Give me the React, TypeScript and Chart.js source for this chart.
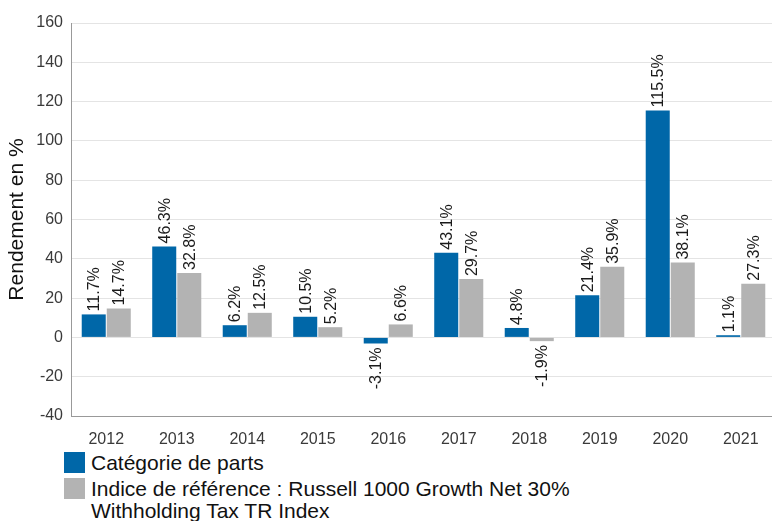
import React, { useEffect, useRef } from "react";
import { Chart, registerables } from "chart.js";

Chart.register(...registerables);

const years = ["2012", "2013", "2014", "2015", "2016", "2017", "2018", "2019", "2020", "2021"];
const fundValues = [11.7, 46.3, 6.2, 10.5, -3.1, 43.1, 4.8, 21.4, 115.5, 1.1];
const indexValues = [14.7, 32.8, 12.5, 5.2, 6.6, 29.7, -1.9, 35.9, 38.1, 27.3];
const seriesNames = [
  "Catégorie de parts",
  "Indice de référence : Russell 1000 Growth Net 30% Withholding Tax TR Index",
];
const seriesColors = ["#0067a8", "#b3b3b3"];
const yTitle = "Rendement en %";
const FONT = "'Liberation Sans', Arial, sans-serif";

const labelPlugin = {
  id: "barValueLabels",
  afterDatasetsDraw(chart: any) {
    const ctx = chart.ctx;
    ctx.save();
    ctx.font = `16px ${FONT}`;
    ctx.fillStyle = "#1a1a1a";
    ctx.textBaseline = "middle";
    chart.data.datasets.forEach((ds: any, di: number) => {
      const meta = chart.getDatasetMeta(di);
      meta.data.forEach((bar: any, i: number) => {
        const v = ds.data[i];
        const text = v.toFixed(1) + "%";
        ctx.save();
        if (v >= 0) {
          ctx.translate(bar.x, bar.y - 3);
          ctx.rotate(-Math.PI / 2);
          ctx.textAlign = "left";
        } else {
          ctx.translate(bar.x, bar.y + 4);
          ctx.rotate(-Math.PI / 2);
          ctx.textAlign = "right";
        }
        ctx.fillText(text, 0, 1);
        ctx.restore();
      });
    });
    ctx.restore();
  },
};

export default function App() {
  const ref = useRef<HTMLCanvasElement>(null);
  useEffect(() => {
    if (!ref.current) return;
    const chart = new Chart(ref.current, {
      type: "bar",
      data: {
        labels: years,
        datasets: [
          { label: seriesNames[0], data: fundValues, backgroundColor: seriesColors[0], barPercentage: 0.96, categoryPercentage: 0.71 },
          { label: seriesNames[1], data: indexValues, backgroundColor: seriesColors[1], barPercentage: 0.96, categoryPercentage: 0.71 },
        ],
      },
      options: {
        animation: false,
        responsive: false,
        devicePixelRatio: 1,
        layout: { padding: { top: 23, right: 4, left: 0, bottom: 0 } },
        plugins: { legend: { display: false }, tooltip: { enabled: false } },
        scales: {
          x: {
            grid: { display: false },
            border: { display: true, color: "#999999", width: 1 },
            ticks: { color: "#3a3a3a", font: { family: FONT, size: 16 }, padding: 6 },
            afterFit: (s: any) => { s.height = 29; },
          },
          y: {
            min: -40,
            max: 160,
            ticks: { stepSize: 20, color: "#3a3a3a", font: { family: FONT, size: 16 }, padding: 8 },
            grid: { color: "#e4e4e4", drawTicks: false, lineWidth: 1 },
            border: { display: true, color: "#999999", width: 1 },
            title: {
              display: true,
              text: yTitle,
              color: "#111111",
              font: { family: FONT, size: 21 },
              padding: { top: 5, bottom: 0 },
            },
            afterFit: (s: any) => { s.width = 71; },
          },
        },
      },
      plugins: [labelPlugin],
    });
    return () => chart.destroy();
  }, []);

  return (
    <div style={{ position: "absolute", left: 0, top: 0, width: 772, height: 521, overflow: "hidden", background: "#fff", fontFamily: FONT }}>
      <canvas ref={ref} width={780} height={445} style={{ position: "absolute", left: 0, top: 0 }} />
      <div style={{ position: "absolute", left: 64, top: 452 }}>
        {seriesNames.map((name, i) => (
          <div key={name} style={{ display: "flex", alignItems: "flex-start", marginBottom: 4 }}>
            <div style={{ width: 21, height: 21, background: seriesColors[i], flex: "none" }} />
            <div style={{ marginLeft: 6, fontSize: 21, lineHeight: "22px", color: "#111", width: 560 }}>{name}</div>
          </div>
        ))}
      </div>
    </div>
  );
}
